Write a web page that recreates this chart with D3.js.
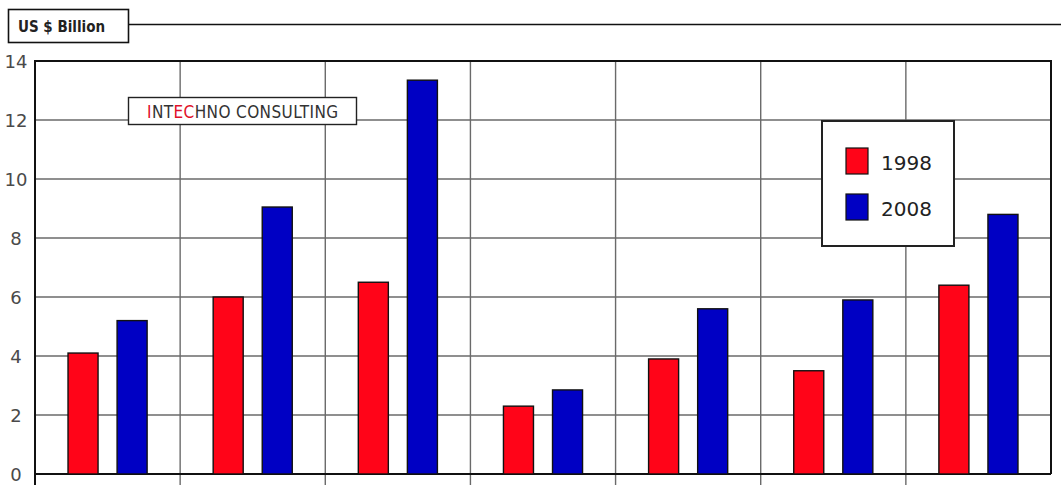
<!DOCTYPE html>
<html>
<head>
<meta charset="utf-8">
<script src="https://cdn.jsdelivr.net/npm/d3@7"></script>
<style>
  body { margin: 0; background: #fff; }
  svg { display: block; }
</style>
</head>
<body>
<svg id="chart" width="1061" height="485"></svg>
<script>
// data (category names are cut off in the source)
const categories = ["c1", "c2", "c3", "c4", "c5", "c6", "c7"];
const series = ["1998", "2008"];
const values1998 = [4.1, 6.0, 6.5, 2.3, 3.9, 3.5, 6.4];
const values2008 = [5.2, 9.05, 13.35, 2.85, 5.6, 5.9, 8.8];
const yTicks = [0, 2, 4, 6, 8, 10, 12, 14];

const colors = { "1998": "#ff0418", "2008": "#0000c4" };

const svg = d3.select("#chart");
const plot = { left: 35, right: 1051, top: 61, bottom: 474 };

const x = d3.scaleBand().domain(categories).range([plot.left, plot.right]).padding(0);
const xs = d3.scaleBand().domain(series).range([0, x.bandwidth()])
  .paddingInner(0.388).paddingOuter(0.673);
const y = d3.scaleLinear().domain([0, 14]).range([plot.bottom, plot.top]);

// header box + rule
svg.append("line")
  .attr("x1", 128).attr("x2", 1061).attr("y1", 24.5).attr("y2", 24.5)
  .attr("stroke", "#111").attr("stroke-width", 1.6);
svg.append("rect")
  .attr("x", 8.5).attr("y", 9.5).attr("width", 120).attr("height", 33)
  .attr("fill", "#fff").attr("stroke", "#111").attr("stroke-width", 1.6);
svg.append("text")
  .attr("x", 18).attr("y", 32)
  .attr("font-family", "DejaVu Sans Condensed, DejaVu Sans")
  .attr("font-weight", "bold").attr("font-size", 15)
  .attr("fill", "#222")
  .text("US $ Billion");

// horizontal grid
svg.append("g").selectAll("line").data(yTicks).join("line")
  .attr("x1", plot.left).attr("x2", plot.right)
  .attr("y1", d => y(d)).attr("y2", d => y(d))
  .attr("stroke", "#6a6a6a").attr("stroke-width", 1.4);

// vertical grid at category boundaries
const bounds = categories.map(c => x(c)).concat([plot.right]);
svg.append("g").selectAll("line").data(bounds.slice(1, -1)).join("line")
  .attr("x1", d => d).attr("x2", d => d)
  .attr("y1", plot.top).attr("y2", 485)
  .attr("stroke", "#6a6a6a").attr("stroke-width", 1.4);

// frame
svg.append("path")
  .attr("d", `M${plot.left},485 V${plot.top} H${plot.right} V${plot.bottom}`)
  .attr("fill", "none").attr("stroke", "#111").attr("stroke-width", 2);
svg.append("line")
  .attr("x1", plot.left).attr("x2", plot.right).attr("y1", plot.bottom).attr("y2", plot.bottom)
  .attr("stroke", "#111").attr("stroke-width", 2);

// y tick labels
svg.append("g").selectAll("text").data(yTicks).join("text")
  .attr("x", 16).attr("y", d => y(d) + 7)
  .attr("text-anchor", "middle")
  .attr("font-family", "DejaVu Sans")
  .attr("font-size", 18)
  .attr("fill", "#4a4a4a")
  .text(d => d);

// bars
const rows = categories.map((c, i) => ({ c, v: { "1998": values1998[i], "2008": values2008[i] } }));
const groups = svg.append("g").selectAll("g").data(rows).join("g")
  .attr("transform", d => `translate(${x(d.c)},0)`);
groups.selectAll("rect").data(d => series.map(s => ({ s, v: d.v[s] }))).join("rect")
  .attr("x", d => xs(d.s))
  .attr("width", xs.bandwidth())
  .attr("y", d => y(d.v))
  .attr("height", d => y(0) - y(d.v))
  .attr("fill", d => colors[d.s])
  .attr("stroke", "#111").attr("stroke-width", 1.4);

// INTECHNO CONSULTING box
svg.append("rect")
  .attr("x", 128.5).attr("y", 97.5).attr("width", 228).attr("height", 27)
  .attr("fill", "#fff").attr("stroke", "#222").attr("stroke-width", 1.4);
const logo = svg.append("text")
  .attr("x", 147).attr("y", 118)
  .attr("font-family", "DejaVu Sans Condensed, DejaVu Sans")
  .attr("font-size", 17).attr("letter-spacing", 0.4).attr("fill", "#333");
[["I", "#e0102a"], ["NT", "#333"], ["EC", "#e0102a"], ["HNO CONSULTING", "#333"]]
  .forEach(([t, c]) => logo.append("tspan").attr("fill", c).text(t));

// legend
const legend = svg.append("g");
legend.append("rect")
  .attr("x", 822).attr("y", 121).attr("width", 132).attr("height", 125)
  .attr("fill", "#fff").attr("stroke", "#222").attr("stroke-width", 2);
const li = legend.selectAll("g").data(series).join("g")
  .attr("transform", (d, i) => `translate(846,${148 + i * 46})`);
li.append("rect")
  .attr("width", 22).attr("height", 26)
  .attr("fill", d => colors[d]).attr("stroke", "#111").attr("stroke-width", 1.2);
li.append("text")
  .attr("x", 35).attr("y", 22)
  .attr("font-family", "DejaVu Sans")
  .attr("font-size", 20).attr("fill", "#222")
  .text(d => d);
</script>
</body>
</html>
